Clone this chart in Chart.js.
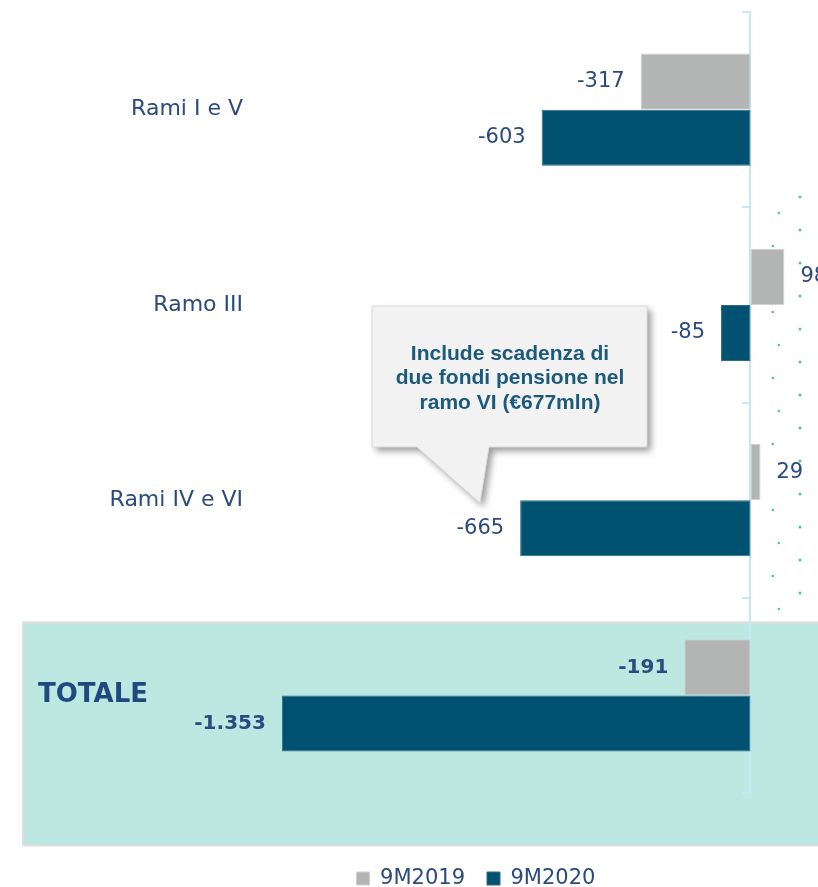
<!DOCTYPE html>
<html>
<head>
    <title>Raccolta netta per ramo</title>
    <script src="https://cdn.jsdelivr.net/npm/chart.js"></script>
    <style>
        html, body { margin: 0; padding: 0; overflow: hidden; background: #ffffff; }
        #wrap { width: 818px; height: 899px; position: relative; }
    </style>
</head>
<body>
    <div id="wrap"><canvas id="flowChart"></canvas></div>
<script>
// Data
const categories = ['Rami I e V', 'Ramo III', 'Rami IV e VI', 'TOTALE'];
const seriesNames = ['9M2019', '9M2020'];
const values2019 = [-317, 98, 29, -191];
const values2020 = [-603, -85, -665, -1353];
const noteLines = ['Include scadenza di', 'due fondi pensione nel', 'ramo VI (€677mln)'];

const textBlue = '#2a4a80';
const axisBlue = '#c3e8fa';

// italian thousands separator
function fmt(v) {
    return String(v).replace(/\B(?=(\d{3})+(?!\d))/g, '.');
}

// light teal box behind the TOTALE row
const totalBox = {
    id: 'totalBox',
    beforeDraw(chart) {
        const ctx = chart.ctx;
        const y = chart.scales.y;
        const c = y.getPixelForValue(categories.length - 1);
        ctx.save();
        ctx.fillStyle = '#bde8e2';
        ctx.fillRect(23, c - 73, chart.width, 223);
        ctx.strokeStyle = '#dedede';
        ctx.lineWidth = 2;
        ctx.strokeRect(23, c - 73, chart.width, 223);
        // decorative dots on the right
        ctx.fillStyle = '#4cc4b0';
        for (let yy = 197; yy < 600; yy += 33) {
            ctx.beginPath(); ctx.arc(800, yy, 1.5, 0, Math.PI * 2); ctx.fill();
            ctx.beginPath(); ctx.arc(767 + ((yy / 33) % 2) * 6, yy + 16, 1.3, 0, Math.PI * 2); ctx.fill();
        }
        ctx.restore();
    }
};

// category names, value labels and the callout
const labelsPlugin = {
    id: 'labelsPlugin',
    afterDraw(chart) {
        const ctx = chart.ctx;
        const y = chart.scales.y;
        ctx.save();
        ctx.textBaseline = 'middle';

        categories.forEach((cat, i) => {
            const cy = y.getPixelForValue(i);
            if (i === categories.length - 1) {
                ctx.font = 'bold 26px "DejaVu Sans"';
                ctx.fillStyle = '#21497f';
                ctx.textAlign = 'left';
                ctx.fillText(cat, 38, cy);
            } else {
                ctx.font = '22px "DejaVu Sans"';
                ctx.fillStyle = textBlue;
                ctx.textAlign = 'right';
                ctx.fillText(cat, 243, cy);
            }
        });

        chart.data.datasets.forEach((ds, d) => {
            chart.getDatasetMeta(d).data.forEach((bar, i) => {
                const v = ds.data[i];
                const last = i === categories.length - 1;
                ctx.font = last ? 'bold 20px "DejaVu Sans"' : '21px "DejaVu Sans"';
                ctx.fillStyle = textBlue;
                if (v < 0) {
                    ctx.textAlign = 'right';
                    ctx.fillText(fmt(v), bar.x - 16, bar.y);
                } else {
                    ctx.textAlign = 'left';
                    ctx.fillText(fmt(v), bar.x + 16, bar.y);
                }
            });
        });

        // callout bubble
        const bx = 372, by = 306, bw = 275, bh = 141;
        ctx.shadowColor = 'rgba(0,0,0,0.4)';
        ctx.shadowBlur = 7;
        ctx.shadowOffsetX = 4;
        ctx.shadowOffsetY = 4;
        ctx.fillStyle = '#f2f2f2';
        ctx.beginPath();
        ctx.moveTo(bx, by);
        ctx.lineTo(bx + bw, by);
        ctx.lineTo(bx + bw, by + bh);
        ctx.lineTo(489, by + bh);
        ctx.lineTo(480, 503);
        ctx.lineTo(417, by + bh);
        ctx.lineTo(bx, by + bh);
        ctx.closePath();
        ctx.fill();
        ctx.shadowColor = 'transparent';
        ctx.strokeStyle = '#dadada';
        ctx.lineWidth = 1;
        ctx.stroke();

        ctx.fillStyle = '#1b5a7a';
        ctx.font = 'bold 21px Arial, "Liberation Sans", sans-serif';
        ctx.textAlign = 'center';
        noteLines.forEach((line, k) => {
            ctx.fillText(line, 510, 354 + k * 24.5);
        });
        ctx.restore();
    }
};

const ctx = document.getElementById('flowChart').getContext('2d');
const flowChart = new Chart(ctx, {
    type: 'bar',
    data: {
        labels: categories,
        datasets: [{
            label: seriesNames[0],
            data: values2019,
            backgroundColor: '#b3b4b4',
            borderColor: '#cfd0d0',
            borderWidth: 1,
            borderSkipped: false
        }, {
            label: seriesNames[1],
            data: values2020,
            backgroundColor: '#005270',
            borderColor: '#2d6b86',
            borderWidth: 1,
            borderSkipped: false
        }]
    },
    options: {
        indexAxis: 'y',
        responsive: true,
        maintainAspectRatio: false,
        animation: false,
        layout: { padding: { top: 12, left: 134, right: 0, bottom: 0 } },
        datasets: {
            bar: { barPercentage: 1, categoryPercentage: 0.574 }
        },
        scales: {
            x: {
                type: 'linear',
                min: -1780,
                max: 195,
                grid: { display: false },
                border: { display: false },
                ticks: { display: false },
                afterFit(scale) { scale.height = 53; }
            },
            y: {
                type: 'category',
                position: { x: 0 },
                offset: true,
                grid: {
                    offset: true,
                    drawOnChartArea: false,
                    drawTicks: true,
                    tickLength: 7,
                    color: axisBlue,
                    lineWidth: 2
                },
                border: { color: axisBlue, width: 2 },
                ticks: { display: false }
            }
        },
        plugins: {
            legend: {
                position: 'bottom',
                labels: {
                    boxWidth: 13,
                    boxHeight: 13,
                    padding: 22,
                    color: textBlue,
                    font: { family: '"DejaVu Sans"', size: 21 }
                }
            },
            tooltip: { enabled: false }
        }
    },
    plugins: [totalBox, labelsPlugin]
});
</script>
</body>
</html>
